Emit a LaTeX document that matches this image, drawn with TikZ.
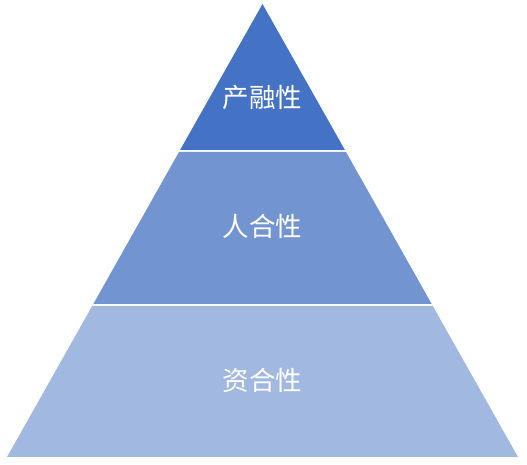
\documentclass[tikz,border=0pt]{standalone}
\usepackage{fontspec}
\newfontfamily\cjk{Noto Sans CJK SC}
\usetikzlibrary{positioning}
\definecolor{topblue}{RGB}{68,114,196}
\definecolor{midblue}{RGB}{114,149,209}
\definecolor{lowblue}{RGB}{161,184,225}
\tikzset{layer/.style={text=white, font=\cjk\fontsize{26.5}{26.5}\selectfont}}

\begin{document}
\begin{tikzpicture}[x=1pt,y=1pt]
  \useasboundingbox (0,0) rectangle (527,465);
  \fill[topblue] (262.5,461) -- (180.1,315) -- (344.9,315) -- cycle;
  \fill[midblue] (179,313) -- (346,313) -- (431.7,161) -- (93.3,161) -- cycle;
  \fill[lowblue] (92.2,159) -- (432.8,159) -- (518,8) -- (7,8) -- cycle;

  \node[layer] (chanrong) at (262.5,367) {产融性};
  \node[layer] (renhe) at (262.5,239) {人合性};
  \node[layer] (zihe) at (262.5,85) {资合性};
\end{tikzpicture}
\end{document}
